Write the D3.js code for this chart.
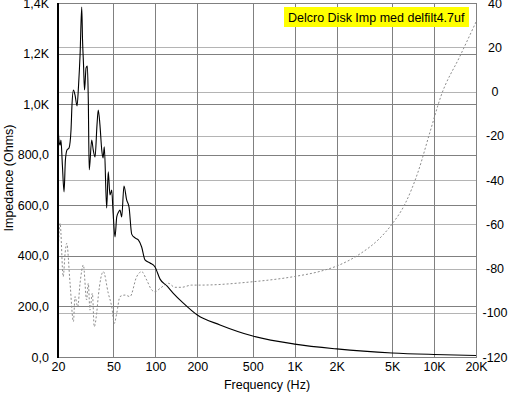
<!DOCTYPE html>
<html>
<head>
<meta charset="utf-8">
<script src="https://cdn.jsdelivr.net/npm/d3@7"></script>
<style>
  body { margin: 0; background: #fff; }
  svg { display: block; font-family: "Liberation Sans", Arial, sans-serif; }
</style>
</head>
<body>
<div id="chart"></div>
<script>
// ============================================================================
// data
// ============================================================================

const freqTicks = [20, 50, 100, 200, 500, 1000, 2000, 5000, 10000, 20000];
const freqLabels = ["20", "50", "100", "200", "500", "1K", "2K", "5K", "10K", "20K"];

const ohmTicks = [0, 200, 400, 600, 800, 1000, 1200, 1400];
const ohmLabels = ["0,0", "200,0", "400,0", "600,0", "800,0", "1,0K", "1,2K", "1,4K"];

const phaseTicks = [-120, -100, -80, -60, -40, -20, 0, 20, 40];

const legendText = "Delcro Disk Imp med delfilt4.7uf";

// impedance curve [Hz, Ohms]
const impedance = [
    [20, 918], [20.3, 858], [20.7, 838], [21.0, 858], [21.5, 759], [22.1, 653],
    [22.6, 779], [23.2, 819], [24.0, 827], [24.8, 898], [25.2, 997], [25.8, 1056],
    [26.5, 1036], [27.4, 993], [28.1, 1076], [28.8, 1194], [29.6, 1384], [30.0, 1254],
    [30.5, 1155], [31.0, 1056], [31.8, 1143], [32.5, 1151], [33.0, 1016], [33.5, 740],
    [34.9, 858], [35.8, 819], [36.9, 791], [38.1, 918], [38.9, 977], [40.0, 918],
    [41.2, 819], [42.1, 787], [43.0, 831], [44.7, 589], [45.9, 732], [47.2, 641],
    [48.6, 660], [49.6, 581], [51.3, 475], [52.8, 554], [54.4, 573], [55.7, 581],
    [57.3, 554], [59.5, 676], [62.2, 621], [64.7, 593], [67.6, 486], [71.4, 471],
    [75.4, 463], [79.7, 435], [84.2, 384], [91.5, 372], [99.4, 356], [108, 308],
    [121, 281], [134, 253], [158, 214], [200, 166], [291, 127], [500, 83],
    [1000, 51], [2000, 32], [5000, 16], [10000, 10], [20000, 6]
];

// phase curve [Hz, deg]
const phase = [
    [20, -75], [20.3, -65], [20.7, -59.6], [21.8, -83.7], [22.5, -73], [23.1, -68.6],
    [24.4, -86.6], [25.8, -104], [26.5, -92.7], [27.7, -97.3], [28.8, -86.6], [30.4, -78.4],
    [32.1, -94.2], [33.0, -86.7], [33.9, -98.8], [35.3, -91.2], [36.4, -106.3], [37.9, -100.2],
    [38.9, -92.7], [42.3, -81.4], [45.9, -91.2], [48.6, -97.3], [50.7, -104.8], [52.8, -100.2],
    [55.7, -92.7], [60.5, -92.0], [65.7, -92.7], [73.4, -83.7], [79.7, -81.4], [86.6, -85.2],
    [94.1, -89.7], [99.4, -90.5], [108, -89.0], [124, -86.7], [138, -88.5], [154, -88.5],
    [182, -87.5], [209, -87.5], [478, -86.1], [1000, -83.6], [1518, -81.3], [2000, -78.9],
    [2940, -73.4], [4096, -66.2], [5000, -59.9], [6190, -50.8], [7672, -36.4], [9354, -18.3],
    [11220, -2], [15354, 16], [20000, 31.4]
];

// ============================================================================
// chart
// ============================================================================

const width = 512;
const height = 393;
const plot = { left: 58, right: 476, top: 3, bottom: 357 };

const svg = d3.select("#chart")
    .append("svg")
    .attr("width", width)
    .attr("height", height);

const x = d3.scaleLog().domain([20, 20000]).range([plot.left, plot.right]);
const yL = d3.scaleLinear().domain([0, 1400]).range([plot.bottom, plot.top]);
const yR = d3.scaleLinear().domain([-120, 40]).range([plot.bottom, plot.top]);

// right axis grid (lighter)
svg.append("g")
    .attr("stroke", "#b4b4b4")
    .attr("stroke-width", 1.2)
    .selectAll("line")
    .data(phaseTicks.slice(1, -1))
    .join("line")
    .attr("x1", plot.left).attr("x2", plot.right)
    .attr("y1", d => Math.round(yR(d)) + 0.5)
    .attr("y2", d => Math.round(yR(d)) + 0.5);

// left axis grid (darker)
svg.append("g")
    .attr("stroke", "#808080")
    .attr("stroke-width", 1.2)
    .selectAll("line")
    .data(ohmTicks.slice(1, -1))
    .join("line")
    .attr("x1", plot.left).attr("x2", plot.right)
    .attr("y1", d => Math.round(yL(d)) + 0.5)
    .attr("y2", d => Math.round(yL(d)) + 0.5);

// vertical grid
svg.append("g")
    .attr("stroke", "#808080")
    .attr("stroke-width", 1)
    .selectAll("line")
    .data(freqTicks.slice(1, -1))
    .join("line")
    .attr("x1", d => Math.round(x(d)) + 0.5)
    .attr("x2", d => Math.round(x(d)) + 0.5)
    .attr("y1", plot.top).attr("y2", plot.bottom);

// phase (dotted)
svg.append("path")
    .datum(phase)
    .attr("fill", "none")
    .attr("stroke", "#8c8c8c")
    .attr("stroke-width", 1)
    .attr("stroke-dasharray", "2,2")
    .attr("d", d3.line().curve(d3.curveMonotoneX).x(d => x(d[0])).y(d => yR(d[1])));

// impedance (solid)
svg.append("path")
    .datum(impedance)
    .attr("fill", "none")
    .attr("stroke", "#000")
    .attr("stroke-width", 1.1)
    .attr("d", d3.line().curve(d3.curveMonotoneX).x(d => x(d[0])).y(d => yL(d[1])));

// frame
svg.append("rect")
    .attr("x", plot.left + 0.5).attr("y", plot.top + 0.5)
    .attr("width", plot.right - plot.left)
    .attr("height", plot.bottom - plot.top)
    .attr("fill", "none")
    .attr("stroke", "#808080");

svg.append("line")
    .attr("x1", plot.left).attr("x2", plot.left)
    .attr("y1", plot.top).attr("y2", plot.bottom + 1)
    .attr("stroke", "#000")
    .attr("stroke-width", 2);

// axes (labels only)
const xAxis = svg.append("g")
    .attr("transform", `translate(0,${plot.bottom + 2})`)
    .call(d3.axisBottom(x).tickValues(freqTicks).tickSize(0)
        .tickFormat((d, i) => freqLabels[i]));

const leftAxis = svg.append("g")
    .attr("transform", `translate(${plot.left - 6},0)`)
    .call(d3.axisLeft(yL).tickValues(ohmTicks).tickSize(0)
        .tickFormat((d, i) => ohmLabels[i]));

const rightAxis = svg.append("g")
    .attr("transform", `translate(${plot.right + 19},0)`)
    .call(d3.axisRight(yR).tickValues(phaseTicks).tickSize(0)
        .tickFormat(d => d));

[xAxis, leftAxis, rightAxis].forEach(a => {
    a.select(".domain").remove();
    a.selectAll("text")
        .attr("font-family", "Liberation Sans, Arial, sans-serif")
        .attr("font-size", 12.5)
        .attr("fill", "#000");
});
rightAxis.selectAll("text").attr("text-anchor", "middle").attr("x", 0);

// axis titles
svg.append("text")
    .attr("x", 267).attr("y", 389)
    .attr("text-anchor", "middle")
    .attr("font-size", 12.5)
    .text("Frequency (Hz)");

svg.append("text")
    .attr("transform", "translate(13,178) rotate(-90)")
    .attr("text-anchor", "middle")
    .attr("font-size", 12.5)
    .text("Impedance (Ohms)");

// legend
const legend = svg.append("g");
const legendLabel = legend.append("text")
    .attr("x", 288).attr("y", 22)
    .attr("font-size", 12.5)
    .text(legendText);
const bb = legendLabel.node().getBBox();
legend.insert("rect", "text")
    .attr("x", bb.x - 4).attr("y", 7)
    .attr("width", bb.width + 8).attr("height", 20)
    .attr("fill", "#ffff00");
</script>
</body>
</html>
